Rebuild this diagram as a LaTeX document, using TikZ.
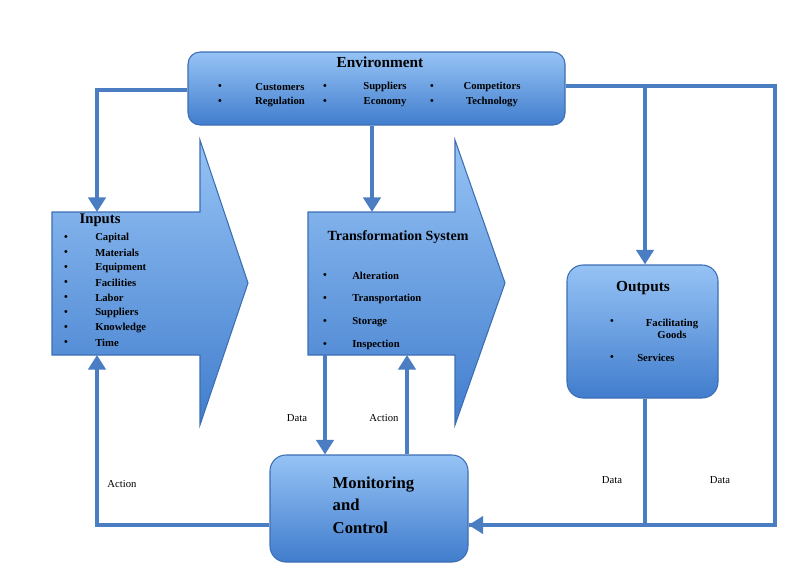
\documentclass[tikz,border=0pt]{standalone}
\usepackage{fontspec}
\setmainfont{Liberation Serif}
\usetikzlibrary{arrows.meta}
\definecolor{edge}{RGB}{60,110,180}
\definecolor{topc}{RGB}{150,195,245}
\definecolor{botc}{RGB}{65,125,205}
\definecolor{linec}{RGB}{75,125,195}
\begin{document}
\begin{tikzpicture}[x=0.75pt,y=-0.75pt,
  box/.style={draw=edge,line width=0.8pt,top color=topc,bottom color=botc,rounded corners=9pt},
  shp/.style={draw=edge,line width=0.8pt,top color=topc,bottom color=botc},
  con/.style={draw=linec,line width=3.6pt},
  arr/.style={con,-{Triangle[width=13pt,length=11pt]}},
  t/.style={font=\fontsize{8}{9}\selectfont\bfseries,inner sep=0pt},
  lab/.style={font=\fontsize{8}{9}\selectfont,inner sep=0pt}]
\useasboundingbox (0,0) rectangle (812,572);
% shapes
\path[shp] (52,212) -- (200,212) -- (200,140) -- (248,283) -- (200,425) -- (200,355) -- (52,355) -- cycle;
\path[shp] (308,212) -- (455,212) -- (455,140) -- (505,283) -- (455,425) -- (455,355) -- (308,355) -- cycle;
\node[box,minimum width=377*0.75pt,minimum height=73*0.75pt] (env) at (376.5,88.5) {};
\node[box,minimum width=151*0.75pt,minimum height=133*0.75pt,rounded corners=12pt] (out) at (642.5,331.5) {};
\node[box,minimum width=198*0.75pt,minimum height=107*0.75pt,rounded corners=12pt] (mon) at (369,508.5) {};
% coordinates
\coordinate (inT) at (97,212); \coordinate (inB) at (97,355);
\coordinate (trT) at (372,212);
\coordinate (trB1) at (325,355); \coordinate (trB2) at (407,355);
% connectors
\draw[arr] (env.west |- 0,90) -| (inT);
\draw[arr] (env.south -| trT) -- (trT);
\draw[con] (env.east |- 0,86) -- (775,86) |- (mon.east |- 0,525);
\draw[arr] (770,525) -- (mon.east |- 0,525);
\draw[arr] (645,86) -- (out.north -| 645,0);
\draw[con] (out.south -| 645,0) -- (645,525);
\draw[arr] (trB1) -- (mon.north -| trB1);
\draw[arr] (mon.north -| trB2) -- (trB2);
\draw[arr] (mon.west |- 0,525) -| (inB);
% env text
\node[font=\fontsize{11.5}{13}\selectfont\bfseries] (envt) at (380,62) {Environment};
\foreach \x/\a/\b [count=\i] in {220/Customers/Regulation,325/Suppliers/Economy,432/Competitors/Technology}{
  \node[t] (eb\i) at (\x,87) {•}; \node[t] (ec\i) at (\x,102) {•};
  \node[t] (ea\i) at (\x+60,87) {\a}; \node[t] (ed\i) at (\x+60,102) {\b};}
% inputs
\node[font=\fontsize{11}{12}\selectfont\bfseries,anchor=west] (int) at (75,220) {Inputs};
\foreach \s [count=\i] in {Capital,Materials,Equipment,Facilities,Labor,Suppliers,Knowledge,Time}{
  \node[t] (ib\i) at (66,238+15*\i-15) {•};
  \node[t,anchor=west] (it\i) at (95,238+15*\i-15) {\s};}
% transformation
\node[font=\fontsize{10.5}{12}\selectfont\bfseries] (trt) at (398,237) {Transformation System};
\foreach \s/\y [count=\i] in {Alteration/276,Transportation/299,Storage/322,Inspection/345}{
  \node[t] (tb\i) at (325,\y) {•};
  \node[t,anchor=west] (tt\i) at (352,\y) {\s};}
% outputs
\node[font=\fontsize{11.5}{13}\selectfont\bfseries] (outt) at (643,288) {Outputs};
\node[t] (ob1) at (612,322) {•};
\node[t,align=center] (ot1) at (672,329) {Facilitating\\Goods};
\node[t] (ob2) at (612,358) {•};
\node[t,anchor=west] (ot2) at (637,358) {Services};
% monitoring
\node[font=\fontsize{12.5}{17}\selectfont\bfseries,align=left,anchor=north west] (mt) at (328,472) {Monitoring\\and\\Control};
% labels
\node[lab] (l1) at (297,418) {Data};
\node[lab] (l2) at (384,418) {Action};
\node[lab] (l3) at (122,484) {Action};
\node[lab] (l4) at (612,480) {Data};
\node[lab] (l5) at (720,480) {Data};
\end{tikzpicture}
\end{document}
